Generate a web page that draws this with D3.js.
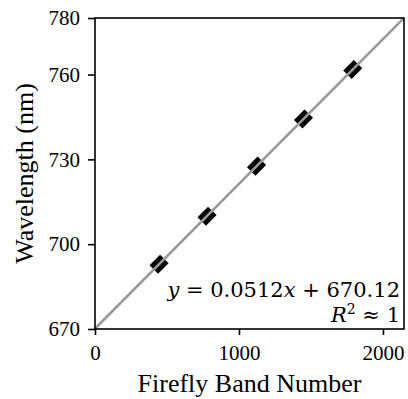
<!DOCTYPE html>
<html>
<head>
<meta charset="utf-8">
<script src="https://cdn.jsdelivr.net/npm/d3@7"></script>
<style>
  body { margin: 0; background: #fff; }
  svg { display: block; }
  .tick text { font-family: "Liberation Serif", "Times New Roman", serif; }
</style>
</head>
<body>
<svg id="chart"></svg>
<script>
// Data
const bandNumbers = [445, 778, 1122, 1448, 1790];
const wavelengths = [692.9, 709.9, 727.6, 744.3, 761.8];
const fitSlope = 0.0512;
const fitIntercept = 670.12;
const xTicks = [0, 1000, 2000];
const yTicks = [670, 700, 730, 760, 780];

const dimensions = {
    width: 408,
    height: 399,
    margin: { top: 18, bottom: 70, right: 4, left: 95 },
};
const plotW = dimensions.width - dimensions.margin.left - dimensions.margin.right;
const plotH = dimensions.height - dimensions.margin.top - dimensions.margin.bottom;

const serif = "Liberation Serif, Times New Roman, serif";
const mathFont = "DejaVu Serif, serif";

const xScale = d3.scaleLinear()
    .domain([0, (780 - fitIntercept) / fitSlope])
    .range([0, plotW]);

const yScale = d3.scaleLinear()
    .domain([670, 780])
    .range([plotH, 0]);

const svg = d3.select("#chart")
    .attr("width", dimensions.width)
    .attr("height", dimensions.height);

const g = svg.append("g")
    .attr("transform", `translate(${dimensions.margin.left}, ${dimensions.margin.top})`);

svg.append("clipPath").attr("id", "clip")
    .append("rect").attr("width", plotW).attr("height", plotH);

// Markers, rotated to follow the fit line
const points = bandNumbers.map((b, i) => ({ x: b, y: wavelengths[i] }));
const lineAngle = Math.atan2(
    yScale(fitIntercept + fitSlope * 2000) - yScale(fitIntercept),
    xScale(2000) - xScale(0)) * 180 / Math.PI;

g.append("g").attr("clip-path", "url(#clip)")
    .selectAll("rect")
    .data(points)
    .enter()
    .append("rect")
    .attr("x", -7.5)
    .attr("y", -6)
    .attr("width", 15)
    .attr("height", 12)
    .attr("transform", d => `translate(${xScale(d.x)},${yScale(d.y)}) rotate(${lineAngle})`)
    .style("fill", "black");

// Fit line
const xMax = xScale.domain()[1];
g.append("line")
    .attr("clip-path", "url(#clip)")
    .attr("x1", xScale(0))
    .attr("y1", yScale(fitIntercept))
    .attr("x2", xScale(xMax))
    .attr("y2", yScale(fitIntercept + fitSlope * xMax))
    .attr("stroke", "#999999")
    .attr("stroke-width", 2.6);

// Axes
const xAxis = g.append("g")
    .attr("transform", `translate(0,${plotH})`)
    .call(d3.axisBottom(xScale).tickValues(xTicks).tickSize(6).tickPadding(10).tickFormat(d3.format("d")));
const yAxis = g.append("g")
    .call(d3.axisLeft(yScale).tickValues(yTicks).tickSize(7).tickPadding(8).tickFormat(d3.format("d")));

[xAxis, yAxis].forEach(ax => {
    ax.attr("font-family", serif).attr("font-size", 21);
    ax.select(".domain").remove();
    ax.selectAll("line").attr("stroke", "black").attr("stroke-width", 1.6);
    ax.selectAll("text")
        .attr("font-family", serif)
        .attr("font-size", 21)
        .attr("fill", "black");
});

// Frame
g.append("rect")
    .attr("width", plotW)
    .attr("height", plotH)
    .attr("fill", "none")
    .attr("stroke", "black")
    .attr("stroke-width", 1.6);

// Axis titles
svg.append("text")
    .attr("x", dimensions.margin.left + plotW / 2)
    .attr("y", 392)
    .attr("font-family", serif)
    .attr("font-size", 26)
    .style("text-anchor", "middle")
    .attr("fill", "black")
    .text("Firefly Band Number");

svg.append("text")
    .attr("transform", `translate(33, ${dimensions.margin.top + plotH / 2}) rotate(-90)`)
    .attr("font-family", serif)
    .attr("font-size", 26)
    .style("text-anchor", "middle")
    .attr("fill", "black")
    .text("Wavelength (nm)");

// Fit equation
const eq = svg.append("text")
    .attr("x", 400)
    .attr("y", 297)
    .attr("font-family", mathFont)
    .attr("font-size", 21)
    .style("text-anchor", "end")
    .attr("fill", "black");
eq.append("tspan").style("font-style", "italic").text("y");
eq.append("tspan").text(` = ${fitSlope}`);
eq.append("tspan").style("font-style", "italic").text("x");
eq.append("tspan").text(` + ${fitIntercept}`);

const r2 = svg.append("text")
    .attr("x", 400)
    .attr("y", 322)
    .attr("font-family", mathFont)
    .attr("font-size", 21)
    .style("text-anchor", "end")
    .attr("fill", "black");
r2.append("tspan").style("font-style", "italic").text("R");
r2.append("tspan").attr("dy", -8).attr("font-size", 14).text("2");
r2.append("tspan").attr("dy", 8).text(" \u2248 1");
</script>
</body>
</html>
